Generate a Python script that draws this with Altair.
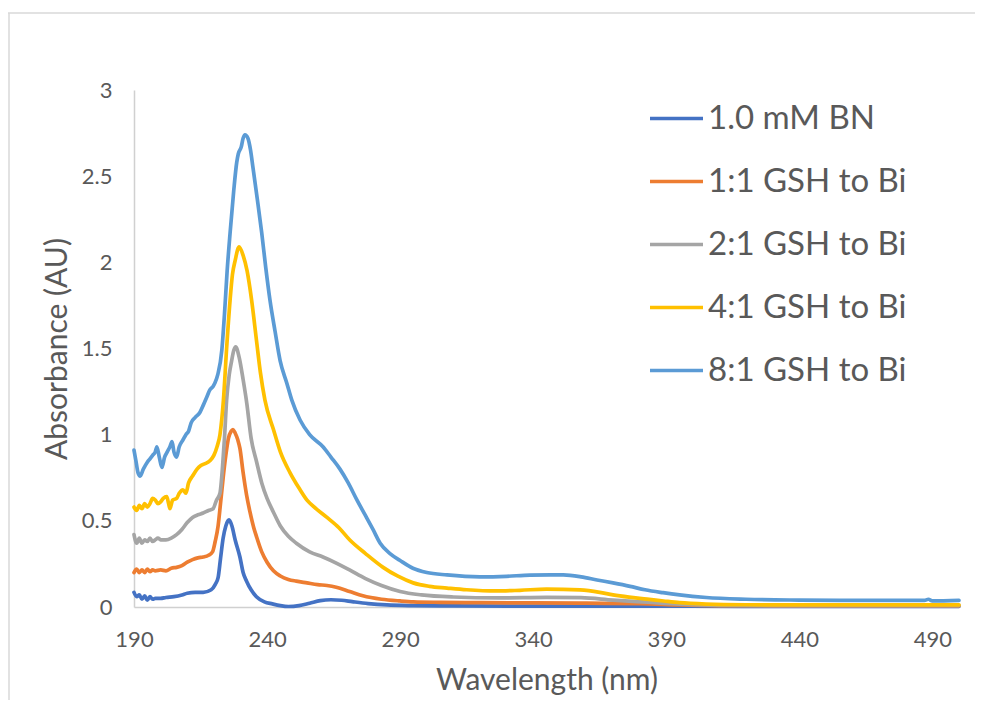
import altair as alt
import pandas as pd

series_names = ["1.0 mM BN", "1:1 GSH to Bi", "2:1 GSH to Bi", "4:1 GSH to Bi", "8:1 GSH to Bi"]
series_colors = ["#4472C4", "#ED7D31", "#A5A5A5", "#FFC000", "#5B9BD5"]

x_ticks = [190, 240, 290, 340, 390, 440, 490]
y_ticks = [0, 0.5, 1, 1.5, 2, 2.5, 3]

bn_x = [190, 191, 192, 193, 194, 195, 196, 197, 198, 200, 202, 205, 208, 210, 213, 216, 219, 220.5,
        221.6, 222.5, 223.5, 224.5, 225.7, 226.8, 228, 229.8, 231, 232.3, 234, 236, 239, 242, 245,
        248, 252, 256, 260, 264, 268, 272, 278, 285, 295, 310, 340, 380, 420, 460, 500]
bn_y = [0.085, 0.06, 0.07, 0.045, 0.065, 0.04, 0.06, 0.045, 0.05, 0.05, 0.055, 0.06, 0.07, 0.08, 0.085,
        0.085, 0.10, 0.13, 0.17, 0.28, 0.40, 0.47, 0.505, 0.47, 0.39, 0.29, 0.20, 0.15, 0.10, 0.06,
        0.03, 0.018, 0.008, 0.003, 0.008, 0.022, 0.037, 0.042, 0.039, 0.031, 0.02, 0.012, 0.008,
        0.006, 0.005, 0.005, 0.004, 0.004, 0.004]

r1_x = [190, 191, 192, 193, 194, 195, 196, 197, 198, 200, 202, 204, 206, 208, 210, 212, 214, 216, 218,
        219.5, 220.5, 221.6, 222.5, 223.5, 224.5, 225.5, 226.5, 227.2, 228, 229, 229.8, 231, 232.3,
        233.6, 235, 236, 238, 240, 242.4, 245, 248, 251, 255, 259, 262.5, 266, 271, 276, 283, 290,
        295, 305, 320, 340, 360, 380, 395, 410, 430, 460, 500]
r1_y = [0.20, 0.22, 0.20, 0.215, 0.20, 0.22, 0.205, 0.215, 0.21, 0.215, 0.21, 0.225, 0.23, 0.24, 0.26,
        0.275, 0.285, 0.29, 0.30, 0.32, 0.38, 0.47, 0.60, 0.75, 0.88, 0.98, 1.02, 1.03, 1.01, 0.97,
        0.92, 0.78, 0.65, 0.55, 0.46, 0.41, 0.32, 0.26, 0.21, 0.18, 0.16, 0.15, 0.14, 0.13, 0.125,
        0.115, 0.09, 0.065, 0.045, 0.035, 0.03, 0.027, 0.025, 0.024, 0.022, 0.02, 0.012, 0.008, 0.007,
        0.007, 0.007]

r2_x = [190, 191, 192, 193, 194, 195, 196, 197, 198, 199, 200, 202, 204, 206, 208, 210, 212, 214, 216,
        218, 219.7, 221, 222.3, 223.3, 224, 224.8, 225.8, 226.7, 227.5, 228.2, 229.5, 231, 232.4, 234,
        236.1, 238, 240, 242.4, 245, 248, 251, 256, 261, 266, 271, 277, 283, 290, 298, 310, 327, 345,
        358, 370, 383, 395, 410, 430, 460, 500]
r2_y = [0.42, 0.37, 0.40, 0.37, 0.39, 0.38, 0.40, 0.38, 0.39, 0.40, 0.39, 0.39, 0.40, 0.42, 0.45, 0.49,
        0.52, 0.535, 0.545, 0.56, 0.57, 0.62, 0.66, 0.82, 0.98, 1.2, 1.35, 1.43, 1.49, 1.51, 1.45,
        1.32, 1.18, 0.98, 0.84, 0.72, 0.63, 0.55, 0.47, 0.41, 0.37, 0.32, 0.29, 0.255, 0.215, 0.165,
        0.125, 0.09, 0.07, 0.058, 0.053, 0.056, 0.054, 0.04, 0.028, 0.017, 0.01, 0.008, 0.008, 0.008]

r4_x = [190, 191, 192, 193, 194, 195, 196, 197, 198, 199, 200, 201, 202.3, 203, 203.5, 204.5, 206, 207,
        208.4, 209.5, 210.5, 212, 213.7, 215, 216.5, 218.6, 220, 221.2, 222.3, 223.6, 224.8, 226.1,
        227, 228, 229.5, 231, 232.5, 234.2, 236, 237.5, 239.2, 242.4, 245, 248.6, 252, 255, 258.5,
        262.5, 267, 271, 277, 283.6, 289, 294.9, 301, 307.6, 315, 326, 335, 345, 357.6, 365, 370, 376,
        382.8, 389, 395, 405, 420, 440, 470, 500]
r4_y = [0.58, 0.56, 0.59, 0.57, 0.60, 0.58, 0.60, 0.63, 0.62, 0.60, 0.61, 0.63, 0.64, 0.60, 0.57, 0.62,
        0.63, 0.66, 0.68, 0.66, 0.72, 0.76, 0.80, 0.82, 0.83, 0.85, 0.88, 0.93, 1.0, 1.2, 1.5, 1.78,
        1.93, 2.01, 2.09, 2.04, 1.95, 1.78, 1.55, 1.36, 1.2, 1.03, 0.9, 0.78, 0.69, 0.62, 0.57, 0.52,
        0.46, 0.39, 0.31, 0.23, 0.18, 0.14, 0.12, 0.11, 0.10, 0.093, 0.097, 0.104, 0.099, 0.085, 0.07,
        0.057, 0.046, 0.035, 0.025, 0.017, 0.013, 0.012, 0.012, 0.012]

r8_x = [190, 190.7, 191.5, 192.3, 193.5, 195, 196, 197, 198, 198.6, 199.5, 200.5, 201.5, 202.5, 203.5,
        204.3, 205, 206, 207, 208.4, 209.5, 210.5, 211.5, 213, 214.8, 216, 217.4, 218.5, 219.7, 220.4,
        221.5, 223, 224, 225, 226.1, 227.5, 228.6, 229.2, 230.3, 231, 231.7, 232.8, 233.8, 234.7,
        236.3, 238, 239.5, 241.1, 243, 244.9, 247.4, 249.3, 252.4, 256, 261, 264, 267.4, 270.5, 273.8,
        277, 279.8, 282.5, 286.2, 290, 294.8, 300, 307.6, 320, 330, 338.8, 351.3, 358, 364, 370,
        376.4, 382, 388.8, 395, 405, 420, 440, 460, 480, 487, 488.5, 490, 500]
r8_y = [0.91, 0.85, 0.78, 0.76, 0.80, 0.84, 0.86, 0.88, 0.90, 0.93, 0.87, 0.81, 0.87, 0.90, 0.93, 0.96,
        0.90, 0.87, 0.93, 0.97, 1.0, 1.02, 1.07, 1.10, 1.13, 1.17, 1.22, 1.26, 1.28, 1.30, 1.35, 1.49,
        1.70, 1.95, 2.17, 2.42, 2.58, 2.63, 2.67, 2.72, 2.74, 2.72, 2.65, 2.55, 2.37, 2.17, 1.97, 1.78,
        1.60, 1.43, 1.30, 1.20, 1.085, 1.0, 0.93, 0.87, 0.80, 0.72, 0.62, 0.53, 0.45, 0.37, 0.31, 0.27,
        0.225, 0.20, 0.186, 0.175, 0.178, 0.185, 0.186, 0.175, 0.157, 0.14, 0.12, 0.10, 0.083, 0.07,
        0.055, 0.045, 0.04, 0.038, 0.038, 0.038, 0.045, 0.035, 0.038]

rows = []
for name, xs, ys in zip(series_names, [bn_x, r1_x, r2_x, r4_x, r8_x], [bn_y, r1_y, r2_y, r4_y, r8_y]):
    for i, (a, b) in enumerate(zip(xs, ys)):
        rows.append({"series": name, "wl": a, "absorb": b, "idx": i})
df = pd.DataFrame(rows)

FONT = "Lato"
TXT = "#595959"
FRAME = "#D9D9D9"

lines = alt.Chart(df).mark_line(
    strokeWidth=3.7, interpolate="monotone", strokeCap="round", strokeJoin="round"
).encode(
    x=alt.X("wl:Q",
            scale=alt.Scale(domain=[190, 500], nice=False, zero=False),
            axis=alt.Axis(values=x_ticks, title="Wavelength (nm)", labelPadding=22, labelFlush=False,
                          titleY=82, titleBaseline="alphabetic", format="d")),
    y=alt.Y("absorb:Q",
            scale=alt.Scale(domain=[0, 3], nice=False),
            axis=alt.Axis(values=y_ticks, title="Absorbance (AU)", labelPadding=22, format="~g",
                          titleX=-68, titleBaseline="alphabetic")),
    color=alt.Color("series:N",
                    scale=alt.Scale(domain=series_names, range=series_colors),
                    legend=alt.Legend(orient="none", legendX=514, legendY=0, title=None,
                                      symbolType="stroke", symbolSize=2809, symbolStrokeWidth=3.5,
                                      labelFontSize=33, labelFont=FONT, labelColor=TXT, labelLimit=0,
                                      rowPadding=17, labelOffset=3, padding=0)),
    order="idx:Q",
)

frame_src = pd.DataFrame({"k": [0]})
frame_top = alt.Chart(frame_src).mark_rule(color=FRAME, strokeWidth=1.5).encode(
    x=alt.value(-126), x2=alt.value(841), y=alt.value(-77))
frame_left = alt.Chart(frame_src).mark_rule(color=FRAME, strokeWidth=1.5).encode(
    x=alt.value(-125), y=alt.value(-77), y2=alt.value(620))

chart = alt.layer(frame_top, frame_left, lines).properties(
    width=825, height=517,
    autosize=alt.AutoSizeParams(type="none"),
    padding={"left": 126, "top": 82, "right": 16, "bottom": 93},
).configure_view(stroke=None).configure_axis(
    grid=False, ticks=False, domainColor="#D0D0D0", domainWidth=1.5,
    labelFont=FONT, labelFontSize=22, labelColor=TXT,
    titleFont=FONT, titleFontSize=30, titleColor=TXT, titleFontWeight="normal",
)

chart.save("out.html", embed_options={"renderer": "svg", "actions": False})
